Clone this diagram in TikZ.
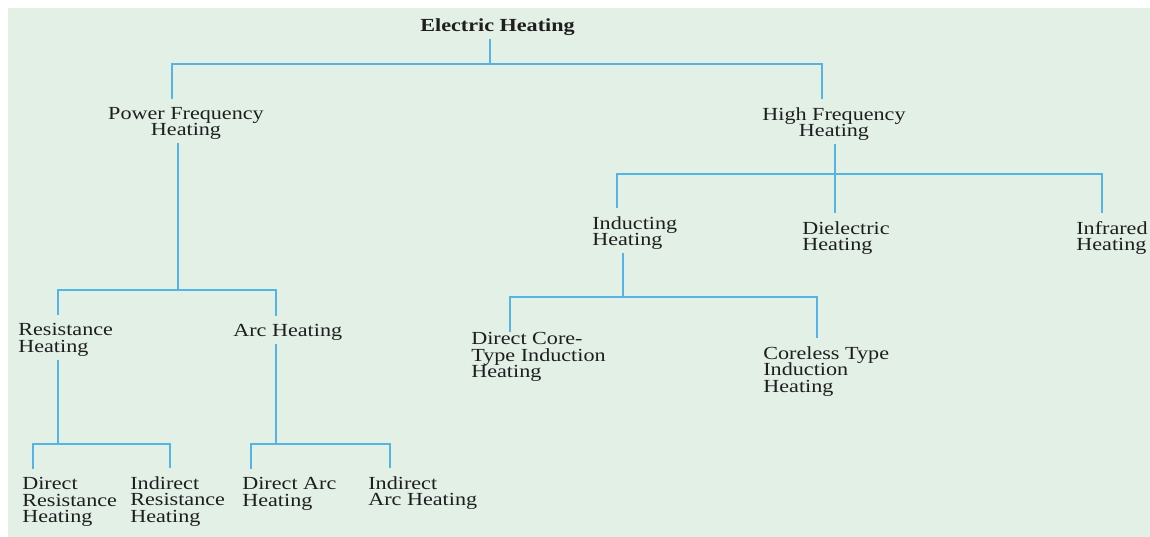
\documentclass[tikz,border=0pt]{standalone}
\usepackage{fontspec}
\setmainfont{Liberation Serif}[FakeStretch=1.2]
\definecolor{bgcol}{HTML}{E2F0E6}
\definecolor{linecol}{HTML}{55B4E4}
\definecolor{txtcol}{HTML}{1E1E1E}
\newcommand\lblfont{\fontsize{10.5}{9.4}\selectfont\lineskiplimit=-20pt\relax}

\begin{document}
\begin{tikzpicture}[x=0.02cm, y=-0.02cm,
  lbl/.style={font=\lblfont, text=txtcol,
    inner sep=0pt, align=left, anchor=north west},
  link/.style={draw=linecol, line width=1.1pt},
  up/.style={link, shorten <=1.8pt},
  down/.style={link, shorten >=4.5pt}]
  \useasboundingbox (0,0) rectangle (1150,537);
  \fill[bgcol] (8,8) rectangle (1150,537);

  % labels
  \node[lbl, font=\lblfont\bfseries] (eh) at (420,18) {Electric Heating};
  \node[lbl, align=center, anchor=north] (pf) at (186,107) {Power Frequency\\Heating};
  \node[lbl, align=center, anchor=north] (hf) at (834,107) {High Frequency\\Heating};
  \node[lbl] (res) at (18,323) {Resistance\\Heating};
  \node[lbl] (arc) at (233,324) {Arc Heating};
  \node[lbl] (dres) at (22,477) {Direct\\Resistance\\Heating};
  \node[lbl] (ires) at (130,476) {Indirect\\Resistance\\Heating};
  \node[lbl] (darc) at (242,477) {Direct Arc\\Heating};
  \node[lbl] (iarc) at (368,476) {Indirect\\Arc Heating};
  \node[lbl] (ind) at (592,216) {Inducting\\Heating};
  \node[lbl] (diel) at (802,221) {Dielectric\\Heating};
  \node[lbl] (infr) at (1076,221) {Infrared\\Heating};
  \node[lbl] (dcore) at (471,332) {Direct Core-\\Type Induction\\Heating};
  \node[lbl] (cless) at (763,346) {Coreless Type\\Induction\\Heating};

  % top level
  \coordinate (j0) at (490,64);
  \draw[up] (eh.south -| j0) -- (j0);
  \draw[down] (j0) -| (pf.north -| 172,0);
  \draw[down] (j0) -| (hf.north -| 822,0);

  % power frequency branch
  \coordinate (j1) at (178,290);
  \draw[up] (pf.south -| j1) -- (j1);
  \draw[down] (j1) -| (res.north -| 58,0);
  \draw[down] (j1) -| (arc.north -| 276,0);

  \coordinate (j2) at (58,444);
  \draw[up] (res.south -| j2) -- (j2);
  \draw[down] (j2) -| (dres.north -| 33,0);
  \draw[down] (j2) -| (ires.north -| 170,0);

  \coordinate (j3) at (276,444);
  \draw[up] (arc.south -| j3) -- (j3);
  \draw[down] (j3) -| (darc.north -| 251,0);
  \draw[down] (j3) -| (iarc.north -| 390,0);

  % high frequency branch
  \coordinate (j4) at (835,174);
  \draw[up] (hf.south -| j4) -- (j4);
  \draw[down] (j4) -| (ind.north -| 617,0);
  \draw[down] (j4) -- (diel.north -| j4);
  \draw[down] (j4) -| (infr.north -| 1102,0);

  \coordinate (j5) at (623,297);
  \draw[up] (ind.south -| j5) -- (j5);
  \draw[link] (j5) -| (dcore.north -| 510,0);
  \draw[down] (j5) -| (cless.north -| 817,0);
\end{tikzpicture}
\end{document}
